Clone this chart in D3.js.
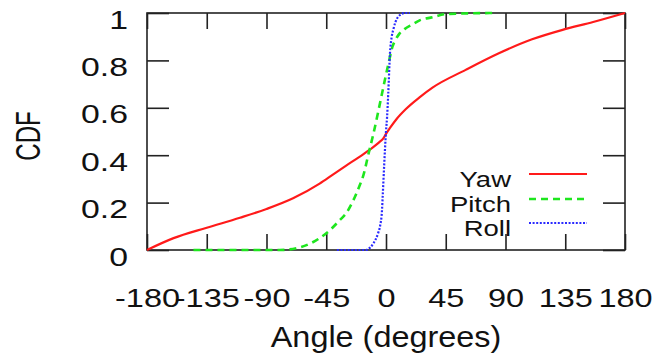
<!DOCTYPE html>
<html>
<head>
<meta charset="utf-8">
<script src="https://d3js.org/d3.v7.min.js"></script>
<style>
  body { margin: 0; background: #fff; }
</style>
</head>
<body>
<div id="my_dataviz"></div>
<script>
// tick labels
const angleTicks = [-180, -135, -90, -45, 0, 45, 90, 135, 180];
const cdfTicks = [0, 0.2, 0.4, 0.6, 0.8, 1];

// Yaw
const yawAngle = [-180, -160, -135, -110, -90, -70, -50, -40, -30, -20, -13, -5, -2, 0, 3, 8, 15, 25, 35, 60, 85, 110, 133, 156, 180];
const yawCdf   = [0, 0.05, 0.094, 0.136, 0.173, 0.218, 0.28, 0.318, 0.356, 0.393, 0.42, 0.455, 0.471, 0.49, 0.515, 0.553, 0.595, 0.643, 0.685, 0.76, 0.83, 0.889, 0.929, 0.962, 1];

// Pitch
const pitchAngle = [-145, -80, -65, -50, -42, -35, -30, -25, -20, -17, -13, -9.5, -6, -3, 0, 2, 5, 7, 10, 14, 20, 25, 35, 45, 80];
const pitchCdf   = [0, 0, 0.011, 0.05, 0.085, 0.125, 0.155, 0.205, 0.27, 0.316, 0.41, 0.49, 0.58, 0.66, 0.74, 0.79, 0.86, 0.885, 0.912, 0.932, 0.952, 0.968, 0.982, 0.995, 1];

// Roll
const rollAngle = [-37, -15, -12, -9.5, -6, -4.5, -3, -2.5, -1.3, 0, 0.8, 1.7, 3, 4.3, 5.5, 7, 9.3, 14, 18];
const rollCdf   = [0, 0, 0.01, 0.028, 0.07, 0.1, 0.17, 0.225, 0.366, 0.5, 0.56, 0.66, 0.83, 0.9, 0.93, 0.96, 0.985, 1, 1];

const seriesNames = ["Yaw", "Pitch", "Roll"];
const seriesColors = ["#ff1a1a", "#1ee61e", "#2a2aff"];

// set the dimensions and margins of the graph
const margin = { top: 13, right: 32, bottom: 103, left: 147 },
  width = 657 - margin.left - margin.right,
  height = 353 - margin.top - margin.bottom;

const font = "'Liberation Sans', Arial, Helvetica, sans-serif";

const svgRoot = d3.select("#my_dataviz")
  .append("svg")
  .attr("width", 657)
  .attr("height", 353);

const svg = svgRoot.append("g")
  .attr("transform", `translate(${margin.left},${margin.top})`);

const x = d3.scaleLinear().domain([-180, 180]).range([0, width]);
const y = d3.scaleLinear().domain([0, 1]).range([height, 0]);

// bottom axis with labels, ticks inward (plain hyphen for minus)
const xAxis = svg.append("g")
  .attr("transform", `translate(0, ${height})`)
  .attr("color", "#222")
  .call(d3.axisBottom(x).tickValues(angleTicks).tickSizeInner(-16).tickSizeOuter(0).tickFormat(d => String(d)));
xAxis.select(".domain").remove();
xAxis.selectAll("line").attr("stroke-width", 1.6);
xAxis.selectAll("text")
  .attr("y", 57)
  .attr("dy", 0)
  .attr("transform", "scale(1.25,1)")
  .attr("fill", "#111")
  .style("font-size", "26px")
  .style("font-family", font);

// top axis (mirror ticks)
const xTop = svg.append("g")
  .attr("color", "#222")
  .call(d3.axisTop(x).tickValues(angleTicks).tickSizeInner(-16).tickSizeOuter(0).tickFormat(""));
xTop.select(".domain").remove();
xTop.selectAll("line").attr("stroke-width", 1.6);

// left axis
const yAxis = svg.append("g")
  .attr("color", "#222")
  .call(d3.axisLeft(y).tickValues(cdfTicks).tickSizeInner(-22).tickSizeOuter(0).tickFormat(d => String(d)));
yAxis.select(".domain").remove();
yAxis.selectAll("line").attr("stroke-width", 1.6);
yAxis.selectAll("text")
  .attr("x", -19 / 1.3)
  .attr("y", 15)
  .attr("dy", 0)
  .attr("transform", "scale(1.3,1)")
  .attr("fill", "#111")
  .style("font-size", "26px")
  .style("font-family", font);

// right axis (mirror ticks)
const yRight = svg.append("g")
  .attr("transform", `translate(${width},0)`)
  .attr("color", "#222")
  .call(d3.axisRight(y).tickValues(cdfTicks).tickSizeInner(-22).tickSizeOuter(0).tickFormat(""));
yRight.select(".domain").remove();
yRight.selectAll("line").attr("stroke-width", 1.6);

// frame
svg.append("rect")
  .attr("x", 0).attr("y", 0)
  .attr("width", width).attr("height", height)
  .attr("fill", "none")
  .attr("stroke", "#222")
  .attr("stroke-width", 1.6);

// axis titles
svgRoot.append("text")
  .attr("transform", "translate(386,347) scale(1.08,1)")
  .attr("text-anchor", "middle")
  .attr("fill", "#111")
  .style("font-size", "30px")
  .style("font-family", font)
  .text("Angle (degrees)");

svgRoot.append("text")
  .attr("transform", "translate(40,136) scale(1.5,1) rotate(-90)")
  .attr("text-anchor", "middle")
  .attr("fill", "#111")
  .style("font-size", "24px")
  .style("font-family", font)
  .text("CDF");

// lines
const line = d3.line()
  .x(d => x(d[0]))
  .y(d => y(d[1]))
  .curve(d3.curveMonotoneX);

const series = [
  { angle: yawAngle, cdf: yawCdf, dash: null, w: 2.2 },
  { angle: pitchAngle, cdf: pitchCdf, dash: "7,5", w: 2.6 },
  { angle: rollAngle, cdf: rollCdf, dash: "2,1.6", w: 2.2 }
];

series.forEach((s, i) => {
  svg.append("path")
    .datum(d3.zip(s.angle, s.cdf))
    .attr("fill", "none")
    .attr("stroke", seriesColors[i])
    .attr("stroke-width", s.w)
    .attr("stroke-dasharray", s.dash)
    .attr("d", line);
});

// legend
const legendY = [174, 199, 223];
seriesNames.forEach((name, i) => {
  svgRoot.append("text")
    .attr("transform", `translate(511,${legendY[i] + 13}) scale(1.25,1)`)
    .attr("text-anchor", "end")
    .attr("fill", "#111")
    .style("font-size", "22px")
    .style("font-family", font)
    .text(name);
  svgRoot.append("line")
    .attr("x1", 529).attr("x2", 587)
    .attr("y1", legendY[i]).attr("y2", legendY[i])
    .attr("stroke", seriesColors[i])
    .attr("stroke-width", series[i].w)
    .attr("stroke-dasharray", series[i].dash);
});
</script>
</body>
</html>
